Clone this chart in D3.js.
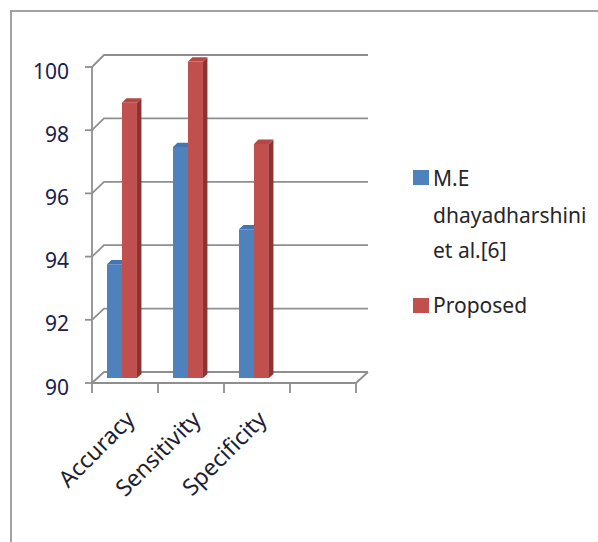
<!DOCTYPE html>
<html>
<head>
<meta charset="utf-8">
<script src="https://cdn.jsdelivr.net/npm/d3@7/dist/d3.min.js"></script>
<style>
  html, body { margin: 0; padding: 0; background: #fff; }
  svg { display: block; }
  text { font-family: "Noto Sans", "Open Sans", sans-serif; }
</style>
</head>
<body>
<svg id="chart" width="598" height="542"></svg>
<script>
// Category slots on the axis (the last slot is an empty row)
const categories = ["Accuracy", "Sensitivity", "Specificity", ""];
const seriesNames = ["M.E dhayadharshini et al.[6]", "Proposed"];
const existingValues = [93.6, 97.3, 94.7];
const proposedValues = [98.7, 100, 97.4];
const yTicks = [90, 92, 94, 96, 98, 100];

const seriesColors = [
  { front: "#4F81BD", top: "#4475b3", side: "#30598c" },
  { front: "#C0504D", top: "#b54643", side: "#8a3431" }
];

const svg = d3.select("#chart");

// Chart frame (top and left border)
svg.append("path")
  .attr("d", "M11,542 V11 H598")
  .attr("fill", "none")
  .attr("stroke", "#a3a3a3")
  .attr("stroke-width", 2);

// Front plane and back wall scales of the 3-D box
const x = d3.scaleBand().domain(categories).range([92, 356]).padding(0);
const yFront = d3.scaleLinear().domain([90, 100]).range([383, 67]);
const yBack = d3.scaleLinear().domain([90, 100]).range([372, 55]);
const depthX = d3.scaleLinear().domain([0, 1]).range([0, 12]);

// Project a front-plane x and value at depth t (0 = front, 1 = back)
function proj(xf, v, t) {
  return [xf + depthX(t), yFront(v) + t * (yBack(v) - yFront(v))];
}

const gridColor = "#8f8f8f";
const grid = svg.append("g").attr("fill", "none").attr("stroke", gridColor).attr("stroke-width", 1.8);
const x0 = x.range()[0], x1 = x.range()[1];

// Back-wall gridlines plus left-wall diagonals
yTicks.forEach(v => {
  const a = proj(x0, v, 0), b = proj(x0, v, 1), c = proj(x1, v, 1);
  grid.append("path").attr("d", `M${a[0]},${a[1]} L${b[0]},${b[1]} L${c[0]},${c[1]}`);
  // axis tick to the left
  grid.append("line").attr("x1", x0 - 7).attr("x2", x0).attr("y1", a[1]).attr("y2", a[1]);
});

// Front vertical axis
grid.append("line").attr("x1", x0).attr("x2", x0)
  .attr("y1", yFront(100)).attr("y2", yFront(90));

// Floor: front edge and right diagonal
{
  const fl = proj(x0, 90, 0), fr = proj(x1, 90, 0), br = proj(x1, 90, 1);
  grid.append("path").attr("d", `M${fl[0]},${fl[1]} L${fr[0]},${fr[1]} L${br[0]},${br[1]}`);
}

// Category tick marks below the floor
const edges = categories.map(c => x(c)).concat([x1]);
edges.forEach(e => {
  grid.append("line").attr("x1", e).attr("x2", e)
    .attr("y1", yFront(90)).attr("y2", yFront(90) + 10);
});

// Y tick labels
svg.append("g").selectAll("text").data(yTicks).join("text")
  .attr("x", 69)
  .attr("y", d => yFront(d) + 11.5)
  .attr("text-anchor", "end")
  .attr("font-size", 21)
  .attr("fill", "#20204a")
  .text(d => d);

// Category labels, rotated
svg.append("g").selectAll("text").data(categories.filter(c => c !== "")).join("text")
  .attr("transform", d => `translate(${x(d) + x.bandwidth() / 2 + 11},${421}) rotate(-45)`)
  .attr("text-anchor", "end")
  .attr("font-size", 23)
  .attr("fill", "#1e1e2e")
  .text(d => d);

// 3-D columns
const t0 = 0.45, t1 = 0.82;
const barW = x.bandwidth() * 0.227;
const pairShift = -8.4;
const seriesValues = [existingValues, proposedValues];
const bars = svg.append("g");

categories.forEach((cat, i) => {
  if (cat === "") return;
  const cx = x(cat) + x.bandwidth() / 2 + pairShift;
  seriesValues.forEach((vals, s) => {
    const v = vals[i];
    const xl = cx + (s - 1) * barW, xr = xl + barW;
    const col = seriesColors[s];
    const fbl = proj(xl, 90, t0), fbr = proj(xr, 90, t0);
    const ftl = proj(xl, v, t0), ftr = proj(xr, v, t0);
    const btl = proj(xl, v, t1), btr = proj(xr, v, t1);
    const bbr = proj(xr, 90, t1);
    // side face
    bars.append("path")
      .attr("d", `M${ftr} L${btr} L${bbr} L${fbr} Z`)
      .attr("fill", col.side);
    // top face
    bars.append("path")
      .attr("d", `M${ftl} L${ftr} L${btr} L${btl} Z`)
      .attr("fill", col.top);
    // front face
    bars.append("path")
      .attr("d", `M${fbl} L${ftl} L${ftr} L${fbr} Z`)
      .attr("fill", col.front);
  });
});

// Legend
const legend = svg.append("g");
legend.append("rect").attr("x", 413).attr("y", 170).attr("width", 16).attr("height", 15)
  .attr("fill", seriesColors[0].front);
const legendLines = ["M.E", "dhayadharshini", "et al.[6]"];
const legendBaselines = [186, 223, 258];
legendLines.forEach((t, k) => {
  legend.append("text").attr("x", 433).attr("y", legendBaselines[k])
    .attr("font-size", 21).attr("fill", "#262626").text(t);
});
legend.append("rect").attr("x", 413).attr("y", 298).attr("width", 16).attr("height", 15)
  .attr("fill", seriesColors[1].front);
legend.append("text").attr("x", 433).attr("y", 313)
  .attr("font-size", 21).attr("fill", "#262626").text(seriesNames[1]);
</script>
</body>
</html>
